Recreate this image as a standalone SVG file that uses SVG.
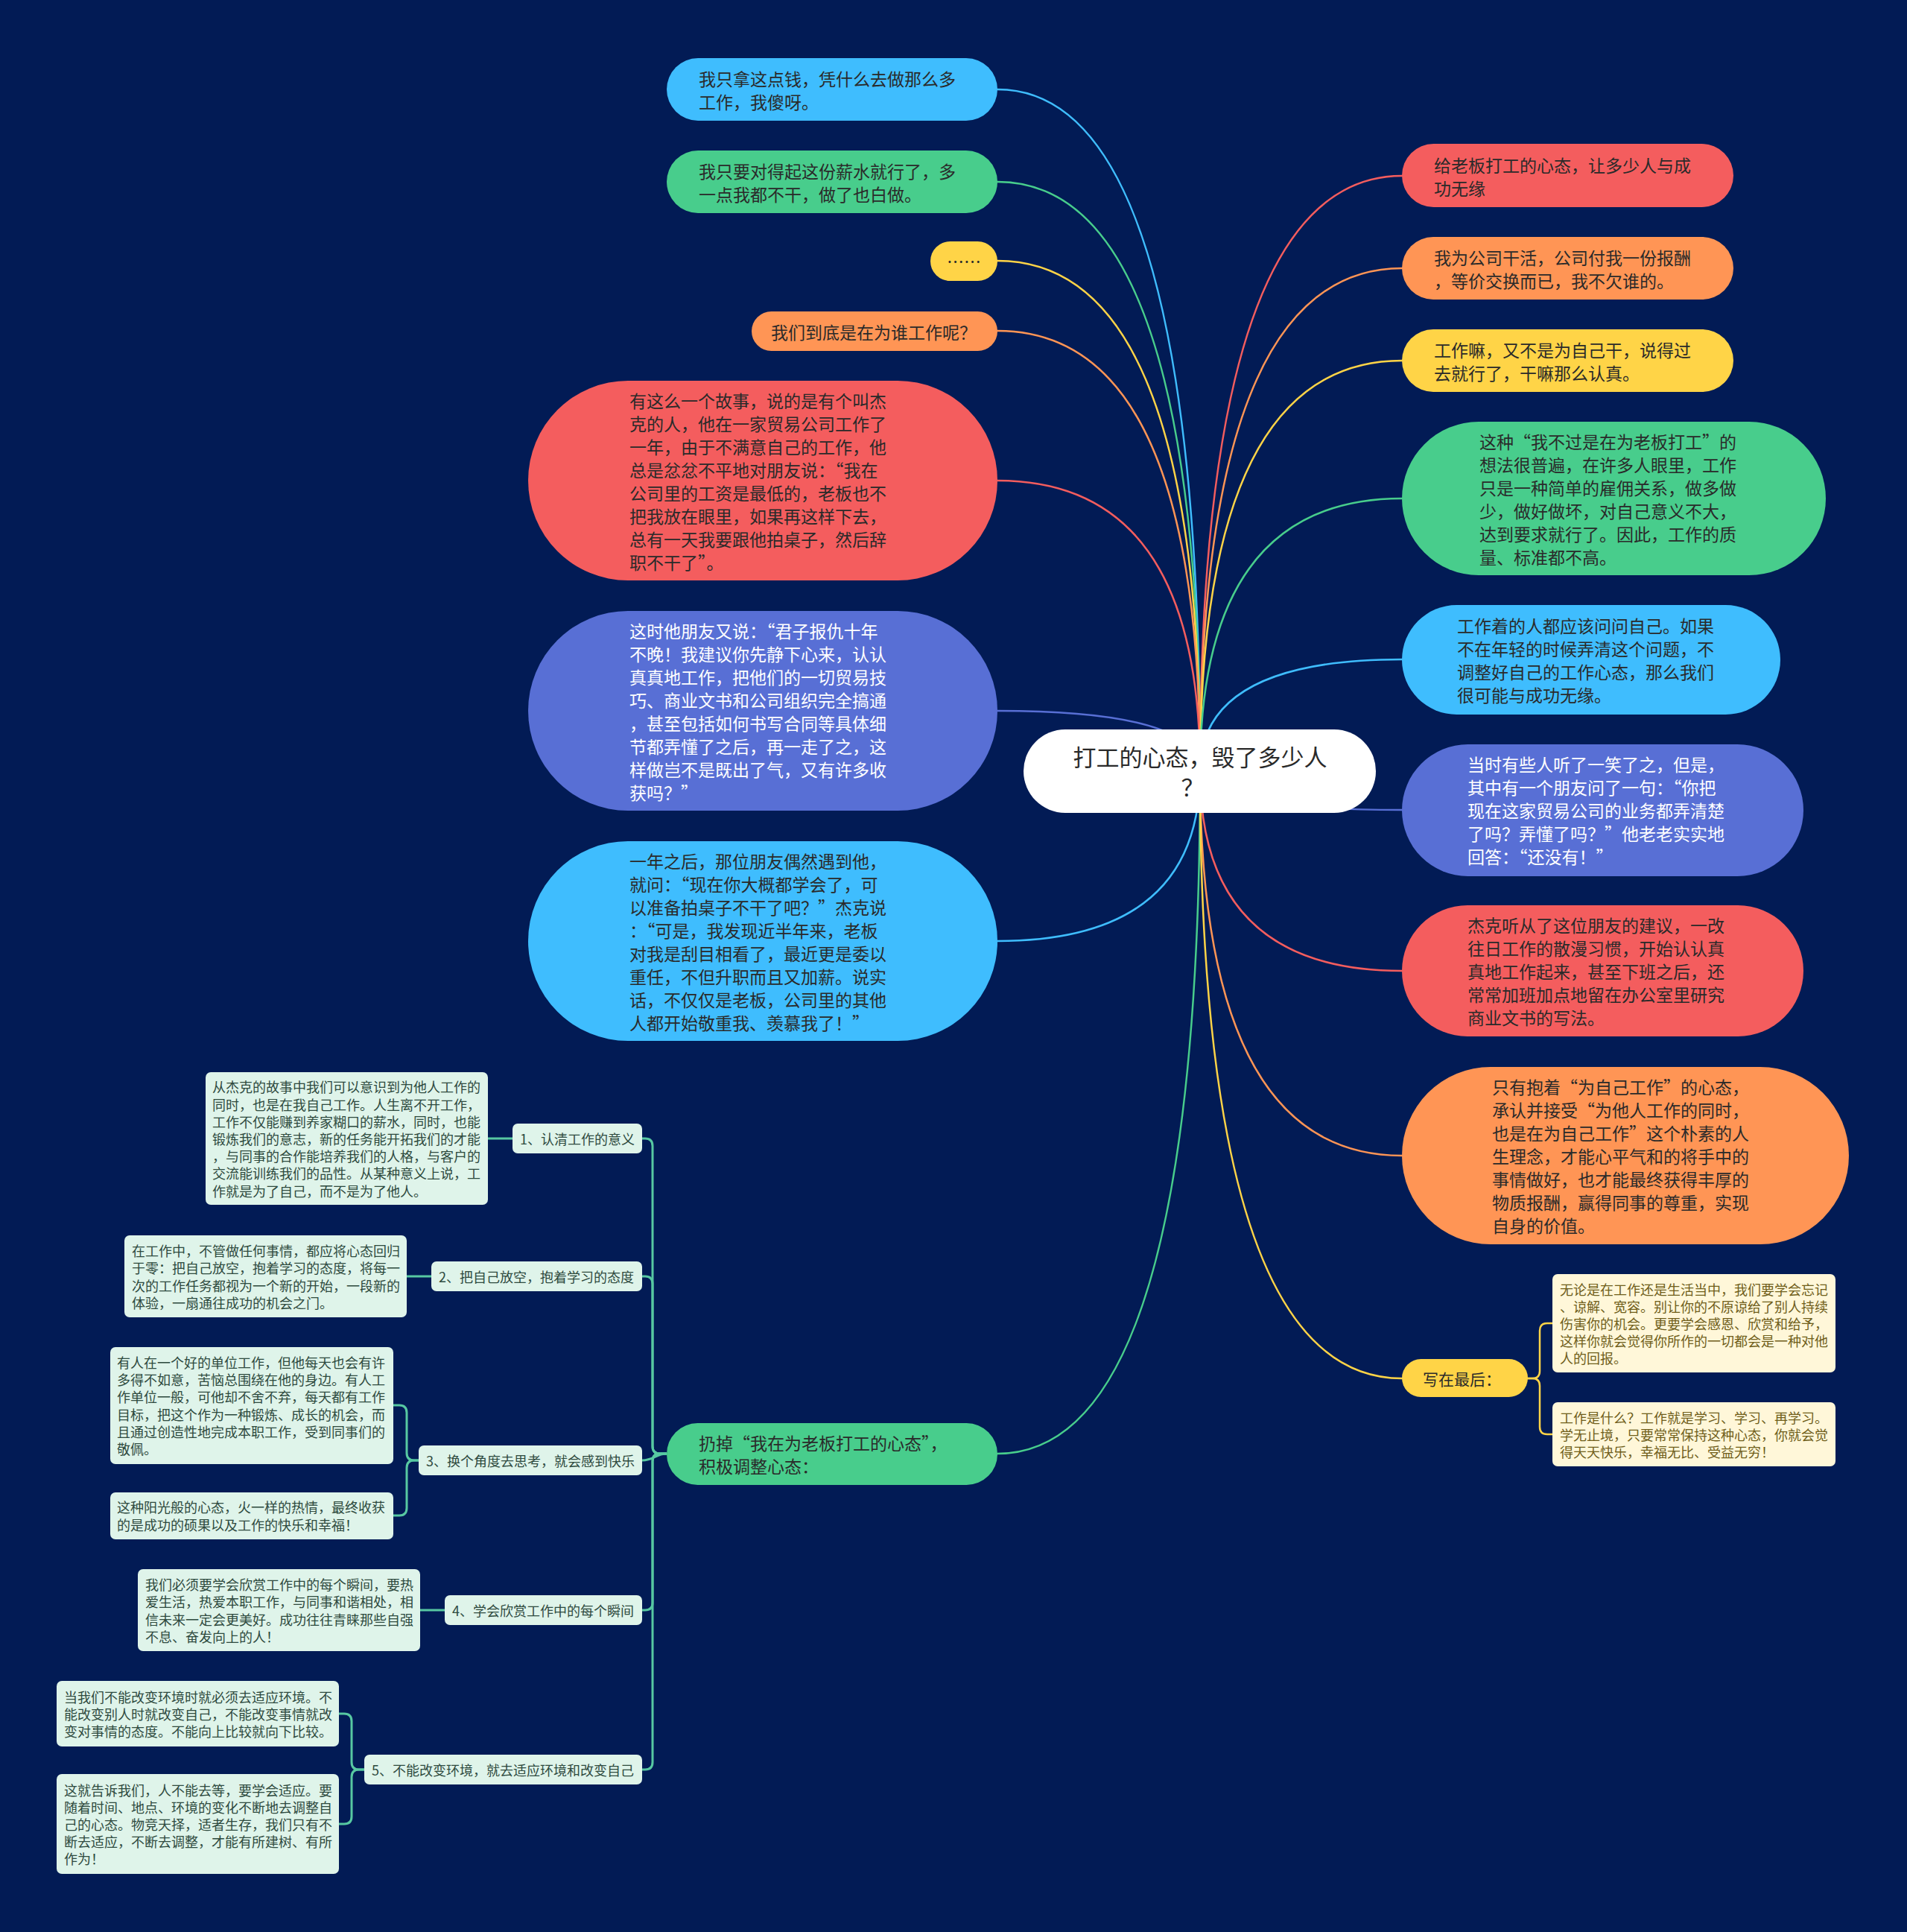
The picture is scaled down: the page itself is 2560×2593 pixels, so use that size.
<svg xmlns="http://www.w3.org/2000/svg" width="2560" height="2593" viewBox="0 0 2560 2593">
<style>
text{font-family:"Noto Sans CJK SC","Noto Sans",sans-serif;dominant-baseline:central}
.m{font-size:23px;fill:#2a2a2a}
.w{font-size:23px;fill:#ffffff}
.s{font-size:18px;fill:#2e4a3e}
.y{font-size:18px;fill:#6f5e1a}
.c{fill:none;stroke-width:2.5;stroke-linecap:round}
.t{fill:none;stroke:#57c8a2;stroke-width:3}
.sub{fill:#dff4ea}
.ybox{fill:#fff7d9}
</style>
<rect x="0" y="0" width="2560" height="2593" fill="#021b55"/>
<g id="connectors">
<path class="c" stroke="#3fbdfe" d="M1611,1035 Q1611,120 1339,120"/>
<path class="c" stroke="#48cd8c" d="M1611,1035 Q1611,244 1339,244"/>
<path class="c" stroke="#ffd447" d="M1611,1035 Q1611,350 1339,350"/>
<path class="c" stroke="#ff9555" d="M1611,1035 Q1611,444 1339,444"/>
<path class="c" stroke="#f45d5e" d="M1611,1035 Q1611,645 1339,645"/>
<path class="c" stroke="#586fd5" d="M1611,1035 Q1611,954 1339,954"/>
<path class="c" stroke="#3fbdfe" d="M1611,1035 Q1611,1263 1339,1263"/>
<path class="c" stroke="#48cd8c" d="M1611,1035 Q1611,1951 1339,1951"/>
<path class="c" stroke="#f45d5e" d="M1611,1035 Q1611,236 1882,236"/>
<path class="c" stroke="#ff9555" d="M1611,1035 Q1611,360 1882,360"/>
<path class="c" stroke="#ffd447" d="M1611,1035 Q1611,484 1882,484"/>
<path class="c" stroke="#48cd8c" d="M1611,1035 Q1611,669 1882,669"/>
<path class="c" stroke="#3fbdfe" d="M1611,1035 Q1611,885 1882,885"/>
<path class="c" stroke="#586fd5" d="M1611,1035 Q1611,1087 1882,1087"/>
<path class="c" stroke="#f45d5e" d="M1611,1035 Q1611,1303 1882,1303"/>
<path class="c" stroke="#ff9555" d="M1611,1035 Q1611,1551 1882,1551"/>
<path class="c" stroke="#ffd447" d="M1611,1035 Q1611,1850 1882,1850"/>
<path class="t" d="M895,1951 H886 Q876,1951 876,1941 V1538 Q876,1528 866,1528 H862"/>
<path class="t" d="M895,1951 H886 Q876,1951 876,1941 V1723 Q876,1713 866,1713 H862"/>
<path class="t" d="M895,1951 C880,1951 878,1960 862,1960"/>
<path class="t" d="M895,1951 H886 Q876,1951 876,1961 V2151 Q876,2161 866,2161 H862"/>
<path class="t" d="M895,1951 H886 Q876,1951 876,1961 V2365 Q876,2375 866,2375 H862"/>
<path class="t" d="M688,1528 H655"/>
<path class="t" d="M579,1713 H546"/>
<path class="t" d="M562,1960 H556 Q546,1960 546,1950 V1896 Q546,1886 536,1886 H528"/>
<path class="t" d="M562,1960 H556 Q546,1960 546,1970 V2024 Q546,2034 536,2034 H528"/>
<path class="t" d="M597,2161 H564"/>
<path class="t" d="M489,2375 H482 Q472,2375 472,2365 V2310 Q472,2300 462,2300 H455"/>
<path class="t" d="M489,2375 H482 Q472,2375 472,2385 V2438 Q472,2448 462,2448 H455"/>
<path class="c" stroke="#ffd447" d="M2051,1850 H2057 Q2067,1850 2067,1840 V1786 Q2067,1776 2077,1776 H2084"/>
<path class="c" stroke="#ffd447" d="M2051,1850 H2057 Q2067,1850 2067,1860 V1915 Q2067,1925 2077,1925 H2084"/>
</g>
<g id="root">
<rect x="1374" y="979" width="473" height="112" rx="56" fill="#ffffff"/>
<text x="1611" y="1014" text-anchor="middle" style="font-size:31px;fill:#2a2a2a">打工的心态，毁了多少人</text>
<text x="1601" y="1054" text-anchor="middle" style="font-size:31px;fill:#2a2a2a">？</text>
</g>
<g id="L1">
<rect x="895" y="78" width="444" height="84" rx="42" fill="#3fbdfe"/>
<text class="m" x="938" y="104.5">我只拿这点钱，凭什么去做那么多</text>
<text class="m" x="938" y="135.5">工作，我傻呀。</text>
</g>
<g id="L2">
<rect x="895" y="202" width="444" height="84" rx="42" fill="#48cd8c"/>
<text class="m" x="938" y="228.5">我只要对得起这份薪水就行了，多</text>
<text class="m" x="938" y="259.5">一点我都不干，做了也白做。</text>
</g>
<g id="L3">
<rect x="1249" y="324" width="90" height="53" rx="26.5" fill="#ffd447"/>
<text class="m" x="1294" y="350" text-anchor="middle">……</text>
</g>
<g id="L4">
<rect x="1009" y="418" width="330" height="53" rx="26.5" fill="#ff9555"/>
<text class="m" x="1035" y="444.5">我们到底是在为谁工作呢？</text>
</g>
<g id="L5">
<rect x="709" y="511" width="630" height="268" rx="134" fill="#f45d5e"/>
<text class="m" x="845" y="536.5">有这么一个故事，说的是有个叫杰</text>
<text class="m" x="845" y="567.5">克的人，他在一家贸易公司工作了</text>
<text class="m" x="845" y="598.5">一年，由于不满意自己的工作，他</text>
<text class="m" x="845" y="629.5">总是忿忿不平地对朋友说：“我在</text>
<text class="m" x="845" y="660.5">公司里的工资是最低的，老板也不</text>
<text class="m" x="845" y="691.5">把我放在眼里，如果再这样下去，</text>
<text class="m" x="845" y="722.5">总有一天我要跟他拍桌子，然后辞</text>
<text class="m" x="845" y="753.5">职不干了”。</text>
</g>
<g id="L6">
<rect x="709" y="820" width="630" height="268" rx="134" fill="#586fd5"/>
<text class="w" x="845" y="845.5">这时他朋友又说：“君子报仇十年</text>
<text class="w" x="845" y="876.5">不晚！我建议你先静下心来，认认</text>
<text class="w" x="845" y="907.5">真真地工作，把他们的一切贸易技</text>
<text class="w" x="845" y="938.5">巧、商业文书和公司组织完全搞通</text>
<text class="w" x="845" y="969.5">，甚至包括如何书写合同等具体细</text>
<text class="w" x="845" y="1000.5">节都弄懂了之后，再一走了之，这</text>
<text class="w" x="845" y="1031.5">样做岂不是既出了气，又有许多收</text>
<text class="w" x="845" y="1062.5">获吗？”</text>
</g>
<g id="L7">
<rect x="709" y="1129" width="630" height="268" rx="134" fill="#3fbdfe"/>
<text class="m" x="845" y="1154.5">一年之后，那位朋友偶然遇到他，</text>
<text class="m" x="845" y="1185.5">就问：“现在你大概都学会了，可</text>
<text class="m" x="845" y="1216.5">以准备拍桌子不干了吧？”杰克说</text>
<text class="m" x="845" y="1247.5">：“可是，我发现近半年来，老板</text>
<text class="m" x="845" y="1278.5">对我是刮目相看了，最近更是委以</text>
<text class="m" x="845" y="1309.5">重任，不但升职而且又加薪。说实</text>
<text class="m" x="845" y="1340.5">话，不仅仅是老板，公司里的其他</text>
<text class="m" x="845" y="1371.5">人都开始敬重我、羡慕我了！”</text>
</g>
<g id="L8">
<rect x="895" y="1910" width="444" height="83" rx="41.5" fill="#48cd8c"/>
<text class="m" x="938" y="1935.5">扔掉“我在为老板打工的心态”，</text>
<text class="m" x="938" y="1966.5">积极调整心态：</text>
</g>
<g id="R1">
<rect x="1882" y="193" width="445" height="85" rx="42.5" fill="#f45d5e"/>
<text class="m" x="1925" y="220.5">给老板打工的心态，让多少人与成</text>
<text class="m" x="1925" y="251.5">功无缘</text>
</g>
<g id="R2">
<rect x="1882" y="318" width="445" height="84" rx="42" fill="#ff9555"/>
<text class="m" x="1925" y="344.5">我为公司干活，公司付我一份报酬</text>
<text class="m" x="1925" y="375.5">，等价交换而已，我不欠谁的。</text>
</g>
<g id="R3">
<rect x="1882" y="442" width="445" height="84" rx="42" fill="#ffd447"/>
<text class="m" x="1925" y="468.5">工作嘛，又不是为自己干，说得过</text>
<text class="m" x="1925" y="499.5">去就行了，干嘛那么认真。</text>
</g>
<g id="R4">
<rect x="1882" y="566" width="569" height="206" rx="103" fill="#48cd8c"/>
<text class="m" x="1986" y="591.5">这种“我不过是在为老板打工”的</text>
<text class="m" x="1986" y="622.5">想法很普遍，在许多人眼里，工作</text>
<text class="m" x="1986" y="653.5">只是一种简单的雇佣关系，做多做</text>
<text class="m" x="1986" y="684.5">少，做好做坏，对自己意义不大，</text>
<text class="m" x="1986" y="715.5">达到要求就行了。因此，工作的质</text>
<text class="m" x="1986" y="746.5">量、标准都不高。</text>
</g>
<g id="R5">
<rect x="1882" y="812" width="508" height="147" rx="73.5" fill="#3fbdfe"/>
<text class="m" x="1956" y="838.5">工作着的人都应该问问自己。如果</text>
<text class="m" x="1956" y="869.5">不在年轻的时候弄清这个问题，不</text>
<text class="m" x="1956" y="900.5">调整好自己的工作心态，那么我们</text>
<text class="m" x="1956" y="931.5">很可能与成功无缘。</text>
</g>
<g id="R6">
<rect x="1882" y="999" width="539" height="177" rx="88.5" fill="#586fd5"/>
<text class="w" x="1970" y="1025">当时有些人听了一笑了之，但是，</text>
<text class="w" x="1970" y="1056">其中有一个朋友问了一句：“你把</text>
<text class="w" x="1970" y="1087">现在这家贸易公司的业务都弄清楚</text>
<text class="w" x="1970" y="1118">了吗？弄懂了吗？”他老老实实地</text>
<text class="w" x="1970" y="1149">回答：“还没有！”</text>
</g>
<g id="R7">
<rect x="1882" y="1215" width="539" height="176" rx="88" fill="#f45d5e"/>
<text class="m" x="1970" y="1241">杰克听从了这位朋友的建议，一改</text>
<text class="m" x="1970" y="1272">往日工作的散漫习惯，开始认认真</text>
<text class="m" x="1970" y="1303">真地工作起来，甚至下班之后，还</text>
<text class="m" x="1970" y="1334">常常加班加点地留在办公室里研究</text>
<text class="m" x="1970" y="1365">商业文书的写法。</text>
</g>
<g id="R8">
<rect x="1882" y="1432" width="600" height="238" rx="119" fill="#ff9555"/>
<text class="m" x="2003" y="1458">只有抱着“为自己工作”的心态，</text>
<text class="m" x="2003" y="1489">承认并接受“为他人工作的同时，</text>
<text class="m" x="2003" y="1520">也是在为自己工作”这个朴素的人</text>
<text class="m" x="2003" y="1551">生理念，才能心平气和的将手中的</text>
<text class="m" x="2003" y="1582">事情做好，也才能最终获得丰厚的</text>
<text class="m" x="2003" y="1613">物质报酬，赢得同事的尊重，实现</text>
<text class="m" x="2003" y="1644">自身的价值。</text>
</g>
<g id="R9">
<rect x="1882" y="1824" width="169" height="51" rx="25.5" fill="#ffd447"/>
<text x="1910" y="1850" style="font-size:21px;fill:#2a2a2a">写在最后：</text>
</g>
<g id="R9a">
<rect class="ybox" x="2084" y="1710" width="380" height="132" rx="7"/>
<text class="y" x="2094" y="1729.6">无论是在工作还是生活当中，我们要学会忘记</text>
<text class="y" x="2094" y="1752.8">、谅解、宽容。别让你的不原谅给了别人持续</text>
<text class="y" x="2094" y="1776">伤害你的机会。更要学会感恩、欣赏和给予，</text>
<text class="y" x="2094" y="1799.2">这样你就会觉得你所作的一切都会是一种对他</text>
<text class="y" x="2094" y="1822.4">人的回报。</text>
</g>
<g id="R9b">
<rect class="ybox" x="2084" y="1882" width="380" height="86" rx="7"/>
<text class="y" x="2094" y="1901.8">工作是什么？工作就是学习、学习、再学习。</text>
<text class="y" x="2094" y="1925">学无止境，只要常常保持这种心态，你就会觉</text>
<text class="y" x="2094" y="1948.2">得天天快乐，幸福无比、受益无穷！</text>
</g>
<g id="S1">
<rect class="sub" x="688" y="1508" width="174" height="40" rx="7"/>
<text class="s" x="698" y="1528">1、认清工作的意义</text>
</g>
<g id="S1a">
<rect class="sub" x="276" y="1439" width="379" height="178" rx="7"/>
<text class="s" x="285" y="1458.4">从杰克的故事中我们可以意识到为他人工作的</text>
<text class="s" x="285" y="1481.6">同时，也是在我自己工作。人生离不开工作，</text>
<text class="s" x="285" y="1504.8">工作不仅能赚到养家糊口的薪水，同时，也能</text>
<text class="s" x="285" y="1528">锻炼我们的意志，新的任务能开拓我们的才能</text>
<text class="s" x="285" y="1551.2">，与同事的合作能培养我们的人格，与客户的</text>
<text class="s" x="285" y="1574.4">交流能训练我们的品性。从某种意义上说，工</text>
<text class="s" x="285" y="1597.6">作就是为了自己，而不是为了他人。</text>
</g>
<g id="S2">
<rect class="sub" x="579" y="1693" width="283" height="40" rx="7"/>
<text class="s" x="589" y="1713">2、把自己放空，抱着学习的态度</text>
</g>
<g id="S2a">
<rect class="sub" x="167" y="1658" width="379" height="110" rx="7"/>
<text class="s" x="177" y="1678.2">在工作中，不管做任何事情，都应将心态回归</text>
<text class="s" x="177" y="1701.4">于零：把自己放空，抱着学习的态度，将每一</text>
<text class="s" x="177" y="1724.6">次的工作任务都视为一个新的开始，一段新的</text>
<text class="s" x="177" y="1747.8">体验，一扇通往成功的机会之门。</text>
</g>
<g id="S3">
<rect class="sub" x="562" y="1940" width="300" height="40" rx="7"/>
<text class="s" x="572" y="1960">3、换个角度去思考，就会感到快乐</text>
</g>
<g id="S3a">
<rect class="sub" x="148" y="1808" width="380" height="157" rx="7"/>
<text class="s" x="157" y="1828">有人在一个好的单位工作，但他每天也会有许</text>
<text class="s" x="157" y="1851.2">多得不如意，苦恼总围绕在他的身边。有人工</text>
<text class="s" x="157" y="1874.4">作单位一般，可他却不舍不弃，每天都有工作</text>
<text class="s" x="157" y="1897.6">目标，把这个作为一种锻炼、成长的机会，而</text>
<text class="s" x="157" y="1920.8">且通过创造性地完成本职工作，受到同事们的</text>
<text class="s" x="157" y="1944">敬佩。</text>
</g>
<g id="S3b">
<rect class="sub" x="148" y="2003" width="380" height="63" rx="7"/>
<text class="s" x="157" y="2022.4">这种阳光般的心态，火一样的热情，最终收获</text>
<text class="s" x="157" y="2045.6">的是成功的硕果以及工作的快乐和幸福！</text>
</g>
<g id="S4">
<rect class="sub" x="597" y="2141" width="265" height="40" rx="7"/>
<text class="s" x="607" y="2161">4、学会欣赏工作中的每个瞬间</text>
</g>
<g id="S4a">
<rect class="sub" x="185" y="2106" width="379" height="110" rx="7"/>
<text class="s" x="195" y="2126.2">我们必须要学会欣赏工作中的每个瞬间，要热</text>
<text class="s" x="195" y="2149.4">爱生活，热爱本职工作，与同事和谐相处，相</text>
<text class="s" x="195" y="2172.6">信未来一定会更美好。成功往往青睐那些自强</text>
<text class="s" x="195" y="2195.8">不息、奋发向上的人！</text>
</g>
<g id="S5">
<rect class="sub" x="489" y="2355" width="373" height="40" rx="7"/>
<text class="s" x="499" y="2375">5、不能改变环境，就去适应环境和改变自己</text>
</g>
<g id="S5a">
<rect class="sub" x="76" y="2256" width="379" height="88" rx="7"/>
<text class="s" x="86" y="2276.8">当我们不能改变环境时就必须去适应环境。不</text>
<text class="s" x="86" y="2300">能改变别人时就改变自己，不能改变事情就改</text>
<text class="s" x="86" y="2323.2">变对事情的态度。不能向上比较就向下比较。</text>
</g>
<g id="S5b">
<rect class="sub" x="76" y="2381" width="379" height="134" rx="7"/>
<text class="s" x="86" y="2401.6">这就告诉我们，人不能去等，要学会适应。要</text>
<text class="s" x="86" y="2424.8">随着时间、地点、环境的变化不断地去调整自</text>
<text class="s" x="86" y="2448">己的心态。物竞天择，适者生存，我们只有不</text>
<text class="s" x="86" y="2471.2">断去适应，不断去调整，才能有所建树、有所</text>
<text class="s" x="86" y="2494.4">作为！</text>
</g>
</svg>
